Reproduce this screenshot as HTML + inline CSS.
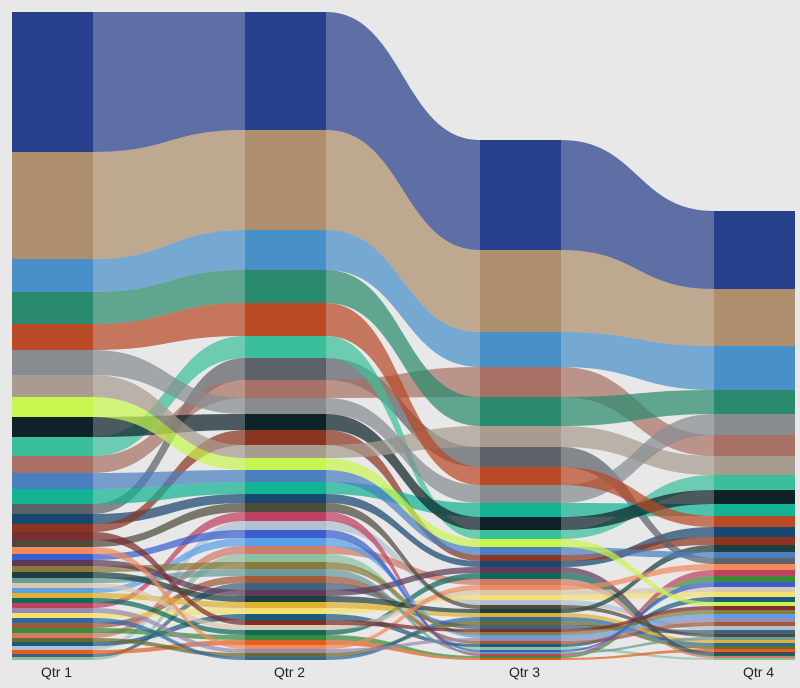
<!DOCTYPE html>
<html><head><meta charset="utf-8"><style>
body{margin:0;background:#e8e8e8;}
svg{display:block;font-family:"Liberation Sans",sans-serif;}
</style></head><body>
<svg id="chart" width="800" height="688" viewBox="0 0 800 688">
<rect width="800" height="688" fill="#e8e8e8"/>
<g id="ribbons"></g>
<g id="bars"></g>
<g id="labels"></g>
</svg>
<script>
const quarters=["Qtr 1","Qtr 2","Qtr 3","Qtr 4"];
const colors=["#27408b","#ad8f6e","#4a90c8","#2a8a6e","#b94a25","#888c90","#a89c90","#c8f550","#0d2329","#3bbf9a","#a87166","#4a7fc0","#13b394","#5d6168","#8b3520","#17466e",
"#7a2e2e","#4e4a3a","#f08a5d","#3a5fcd","#5b3a5a","#8a7a3a","#1f3f3f","#6a9a9a","#d9c8b0","#5aa0e8","#e0b030","#0e6a5a","#c04060","#9a8ab0","#f5e070","#2b6aa0","#a05a3a","#3a8a3a","#d07a6a","#6a6a2a","#1a5a7a","#b0c0d0","#e06020","#406080","#8ac0a0"];
const q1=[140,107,33,32,26,25,22,20,20,19,17,16,15,10,8,10, 8,7,7,6,6,6,6,5,5,5,5,5,5,5,5,5,5,5,5,4,4,4,4,3,3];
const q2=[118,100,40,33,33,16,13,12,16,22,18,12,12,22,15,9, 5,9,4,8,6,7,6,7,5,8,6,5,9,4,6,3,7,5,8,4,6,9,5,7,8];
const q3=[110,82,35,29,18,18,21,8,13,9,30,8,14,20,6,6, 3,4,5,2,6,3,4,2,5,3,4,6,2,3,5,4,3,2,6,4,3,5,2,4,3];
const q4=[78,57,44,24,11,21,19,4,14,15,21,6,12,6,8,10, 4,3,6,5,2,4,7,3,5,4,3,2,6,4,5,3,4,6,2,3,5,4,3,4,2];
const series=[q1,q2,q3,q4];
const colX=[12,245,480,714], colW=81, bottom=660, scale=1;
const NS="http://www.w3.org/2000/svg";
function y(v){return bottom-v*scale;}
const pos=series.map(vals=>{
  const idx=vals.map((v,i)=>i).sort((a,b)=>vals[a]-vals[b]||b-a);
  const p=[];let acc=0;
  idx.forEach(i=>{p[i]={y0:y(acc+vals[i]),y1:y(acc)};acc+=vals[i];});
  return p;
});
const rg=document.getElementById('ribbons'),bg=document.getElementById('bars'),lg=document.getElementById('labels');
for(let q=0;q<3;q++){
  const xa=colX[q]+colW,xb=colX[q+1],xm=(xa+xb)/2;
  for(let i=colors.length-1;i>=0;i--){
    const a=pos[q][i],b=pos[q+1][i];
    const p=document.createElementNS(NS,'path');
    p.setAttribute('d',`M${xa},${a.y0}C${xm},${a.y0} ${xm},${b.y0} ${xb},${b.y0}L${xb},${b.y1}C${xm},${b.y1} ${xm},${a.y1} ${xa},${a.y1}Z`);
    p.setAttribute('fill',colors[i]);p.setAttribute('fill-opacity','0.72');
    
    
    rg.appendChild(p);
  }
}
for(let q=0;q<4;q++){
  colors.forEach((c,i)=>{
    const s=pos[q][i];
    const r=document.createElementNS(NS,'rect');
    r.setAttribute('x',colX[q]);r.setAttribute('width',colW);
    r.setAttribute('y',s.y0);r.setAttribute('height',s.y1-s.y0);r.setAttribute('fill',c);
    
    
    bg.appendChild(r);
  });
  const t=document.createElementNS(NS,'text');
  t.setAttribute('x',colX[q]+colW/2+4);t.setAttribute('y',677);t.setAttribute('text-anchor','middle');
  t.setAttribute('font-size','14');t.setAttribute('fill','#222');
  t.textContent=quarters[q];
  
  
  lg.appendChild(t);
}
</script>
</body></html>
